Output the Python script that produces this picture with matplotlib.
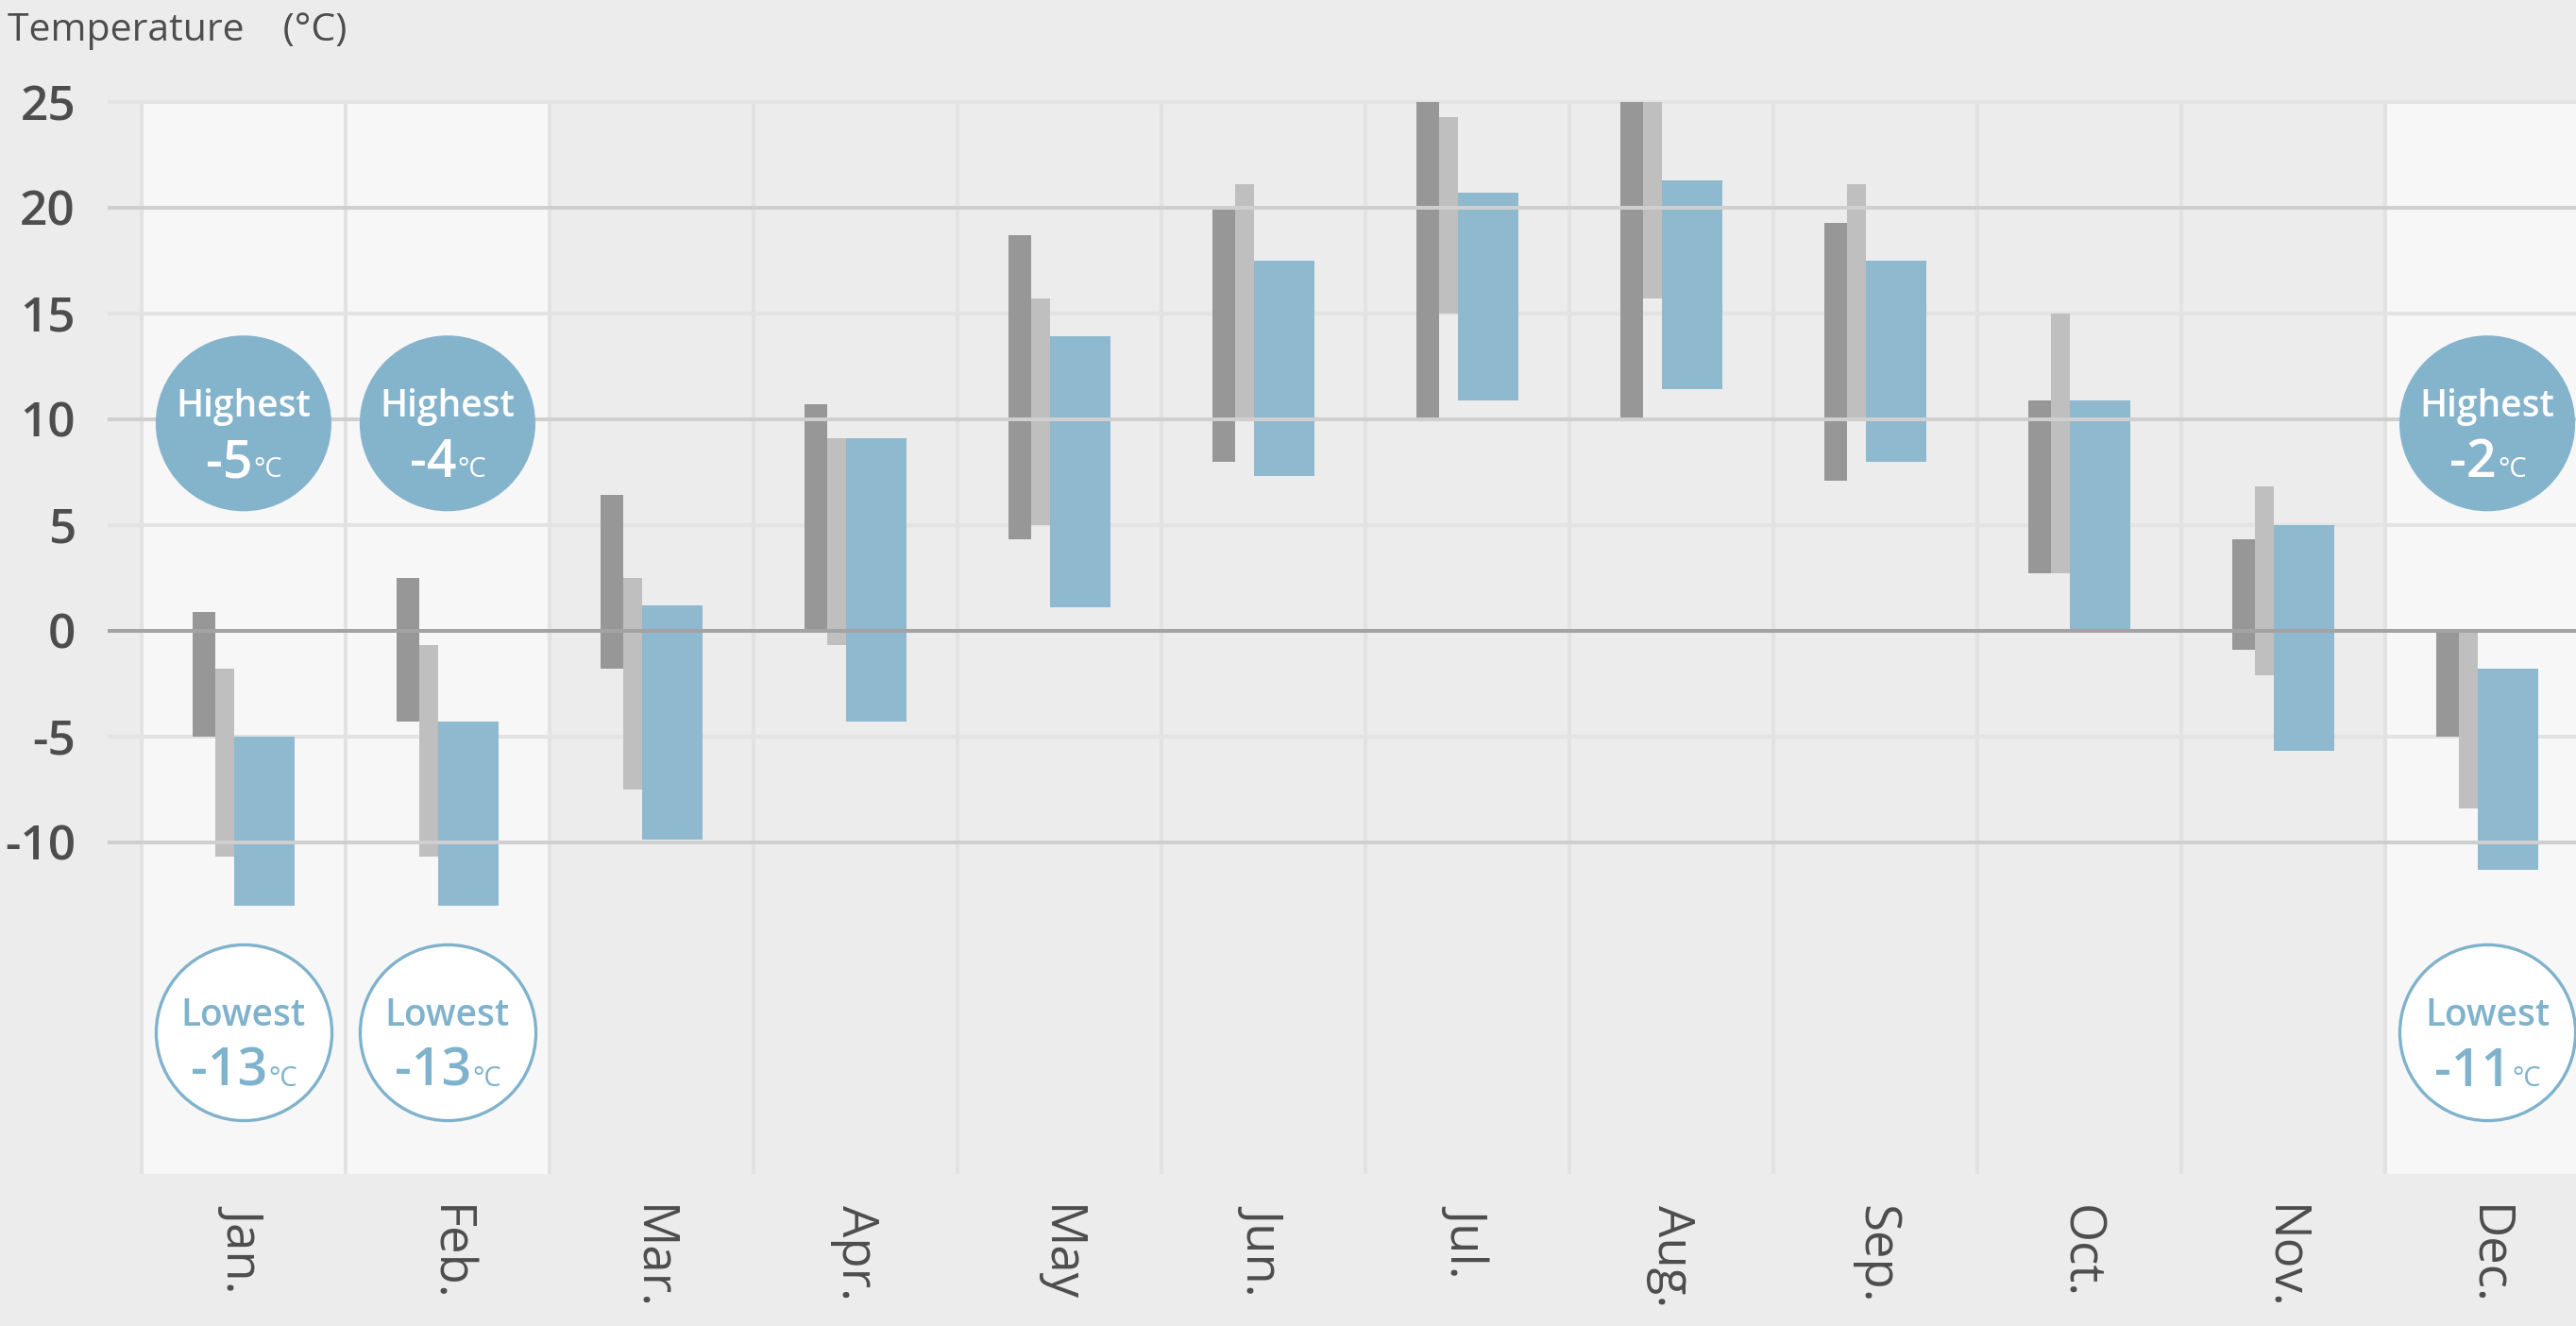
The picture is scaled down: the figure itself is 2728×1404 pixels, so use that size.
import numpy as np
import matplotlib.pyplot as plt

# Monthly temperature ranges (deg C)
months = ['Jan.', 'Feb.', 'Mar.', 'Apr.', 'May', 'Jun.',
          'Jul.', 'Aug.', 'Sep.', 'Oct.', 'Nov.', 'Dec.']
dark_high = [0.9, 2.5, 6.4, 10.7, 18.7, 19.9, 26.0, 26.5, 19.3, 10.9, 4.3, 0.0]
dark_low = [-5.0, -4.3, -1.8, 0.0, 4.3, 8.0, 10.1, 10.1, 7.1, 2.7, -0.9, -5.0]
light_high = [-1.8, -0.7, 2.5, 9.1, 15.7, 21.1, 24.3, 25.7, 21.1, 15.0, 6.8, 0.0]
light_low = [-10.7, -10.7, -7.5, -0.7, 5.0, 9.9, 15.0, 15.7, 9.9, 2.7, -2.1, -8.4]
blue_high = [-5.0, -4.3, 1.2, 9.1, 13.9, 17.5, 20.7, 21.3, 17.5, 10.9, 5.0, -1.8]
blue_low = [-13.0, -13.0, -9.9, -4.3, 1.1, 7.3, 10.9, 11.4, 8.0, 0.0, -5.7, -11.3]

# winter months with the highest / lowest badges
badge_months = ['Jan.', 'Feb.', 'Dec.']
badge_highest = [-5, -4, -2]
badge_lowest = [-13, -13, -11]

yticks = [-10, -5, 0, 5, 10, 15, 20, 25]

plt.rcParams['font.family'] = ['Open Sans', 'Noto Sans CJK JP', 'DejaVu Sans']
text_col = '#4d4d4d'
blue = '#8eb9cf'
badge_blue = '#84b3cc'

fig = plt.figure(figsize=(27.28, 14.04), dpi=100, facecolor='#ececec')
ax = fig.add_axes([116 / 2728, (1404 - 1243) / 1404, (2728 - 116) / 2728, (1243 - 108) / 1404])
ax.set_facecolor('#ececec')
for s in ax.spines.values():
    s.set_visible(False)

x = np.arange(len(months))

# highlighted columns and column separators
for m in badge_months:
    i = months.index(m)
    ax.axvspan(i - 0.5, i + 0.5, color='#f7f7f7', lw=0, zorder=0)
for b in np.arange(-0.5, len(months), 1.0):
    ax.axvline(b, color='#e2e2e2', lw=2.9, zorder=0.5)

# horizontal grid lines
for y in yticks:
    if y == 0:
        ax.axhline(y, color='#a3a3a3', lw=2.9, zorder=3, clip_on=False)
    elif y % 10 == 0:
        ax.axhline(y, color='#cfcfcf', lw=2.9, zorder=3, clip_on=False)
    else:
        ax.axhline(y, color='#e3e3e3', lw=2.9, zorder=0.6, clip_on=False)

# floating bars
dh, dl = np.array(dark_high), np.array(dark_low)
lh, ll = np.array(light_high), np.array(light_low)
bh, bl = np.array(blue_high), np.array(blue_low)
ax.bar(x - 0.1944, dh - dl, bottom=dl, width=0.111, color='#979797', lw=0, zorder=2)
ax.bar(x - 0.0926, lh - ll, bottom=ll, width=0.0926, color='#bfbfbf', lw=0, zorder=2)
ax.bar(x + 0.1019, bh - bl, bottom=bl, width=0.2963, color=blue, lw=0, zorder=2)

# badges
def badge(i, yc, label, value, face, edge, tcol):
    ax.scatter([i], [yc], s=134 ** 2, color=face, edgecolors=edge,
               linewidths=2.4 if edge != 'none' else 0, zorder=4, clip_on=False)
    ax.annotate(label, (i, yc), xytext=(0, 5), textcoords='offset points',
                ha='center', va='baseline', fontsize=28, fontweight='semibold',
                color=tcol, zorder=5)
    num = ax.annotate(str(value), (i, yc), xytext=(-11, -41), textcoords='offset points',
                      ha='center', va='baseline', fontsize=40, fontweight='semibold',
                      color=tcol, zorder=5)
    ax.annotate('°C', (1, yc), xycoords=(num, 'data'), xytext=(1, -41),
                textcoords='offset points', ha='left', va='baseline',
                fontsize=21, color=tcol, zorder=5)

for m, hi, lo in zip(badge_months, badge_highest, badge_lowest):
    i = months.index(m)
    badge(i, 9.8, 'Highest', hi, badge_blue, 'none', 'white')
    badge(i, -19.0, 'Lowest', lo, 'white', '#7fb2cc', '#7fb2cc')

ax.set_xlim(-0.657, 11.435)
ax.set_ylim(-25.7, 25)
ax.set_yticks(yticks)
ax.set_yticklabels([str(v) for v in yticks], fontsize=37, fontweight='semibold', color=text_col)
ax.set_xticks(x)
ax.set_xticklabels(months, rotation=270, fontsize=38, color=text_col, ha='center', va='top')
ax.tick_params(axis='y', length=0, pad=26)
ax.tick_params(axis='x', length=0, pad=24)

fig.text(8 / 2728, 1 - 43 / 1404, 'Temperature\u3000(°C)', fontsize=29.5,
         color=text_col, ha='left', va='baseline')

fig.savefig('out.png', dpi=100, facecolor=fig.get_facecolor())
